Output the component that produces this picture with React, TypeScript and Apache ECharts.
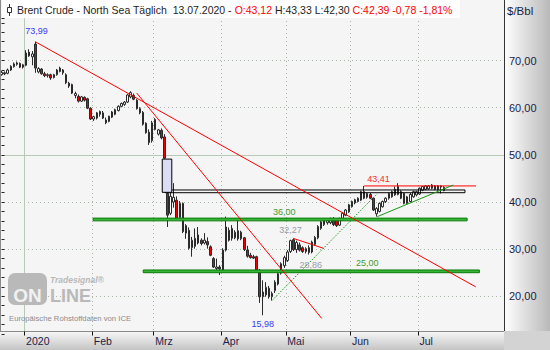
import React, { useEffect, useRef } from 'react';
import * as echarts from 'echarts';

const FONT = "Arial, 'Liberation Sans', sans-serif";

// ---------- data ----------
const dates = [
  '2019-12-18', '2019-12-19', '2019-12-20', '2019-12-23', '2019-12-24', '2019-12-27', '2019-12-30', '2019-12-31',
  '2020-01-02', '2020-01-03', '2020-01-06', '2020-01-07', '2020-01-08', '2020-01-09', '2020-01-10', '2020-01-13',
  '2020-01-14', '2020-01-15', '2020-01-16', '2020-01-17', '2020-01-20', '2020-01-21', '2020-01-22', '2020-01-23',
  '2020-01-24', '2020-01-27', '2020-01-28', '2020-01-29', '2020-01-30', '2020-01-31',
  '2020-02-03', '2020-02-04', '2020-02-05', '2020-02-06', '2020-02-07', '2020-02-10', '2020-02-11', '2020-02-12',
  '2020-02-13', '2020-02-14', '2020-02-17', '2020-02-18', '2020-02-19', '2020-02-20', '2020-02-21', '2020-02-24',
  '2020-02-25', '2020-02-26', '2020-02-27', '2020-02-28',
  '2020-03-02', '2020-03-03', '2020-03-04', '2020-03-05', '2020-03-06', '2020-03-09', '2020-03-10', '2020-03-11',
  '2020-03-12', '2020-03-13', '2020-03-16', '2020-03-17', '2020-03-18', '2020-03-19', '2020-03-20', '2020-03-23',
  '2020-03-24', '2020-03-25', '2020-03-26', '2020-03-27', '2020-03-30', '2020-03-31',
  '2020-04-01', '2020-04-02', '2020-04-03', '2020-04-06', '2020-04-07', '2020-04-08', '2020-04-09', '2020-04-13',
  '2020-04-14', '2020-04-15', '2020-04-16', '2020-04-17', '2020-04-20', '2020-04-21', '2020-04-22', '2020-04-23',
  '2020-04-24', '2020-04-27', '2020-04-28', '2020-04-29', '2020-04-30',
  '2020-05-01', '2020-05-04', '2020-05-05', '2020-05-06', '2020-05-07', '2020-05-08', '2020-05-11', '2020-05-12',
  '2020-05-13', '2020-05-14', '2020-05-15', '2020-05-18', '2020-05-19', '2020-05-20', '2020-05-21', '2020-05-22',
  '2020-05-25', '2020-05-26', '2020-05-27', '2020-05-28', '2020-05-29',
  '2020-06-01', '2020-06-02', '2020-06-03', '2020-06-04', '2020-06-05', '2020-06-08', '2020-06-09', '2020-06-10',
  '2020-06-11', '2020-06-12', '2020-06-15', '2020-06-16', '2020-06-17', '2020-06-18', '2020-06-19', '2020-06-22',
  '2020-06-23', '2020-06-24', '2020-06-25', '2020-06-26', '2020-06-29', '2020-06-30',
  '2020-07-01', '2020-07-02', '2020-07-03', '2020-07-06', '2020-07-07', '2020-07-08', '2020-07-09', '2020-07-10',
  '2020-07-13',
];

const opens = [
  67.0, 67.4, 67.3, 68.0, 68.7, 69.2, 69.4, 68.6,
  69.0, 71.8, 70.8, 73.5, 67.6, 68.2, 67.2, 66.8, 67.0, 66.4, 67.0, 68.4, 67.4, 67.0, 65.2, 64.9, 62.6, 62.4, 61.4, 62.2, 61.9, 59.9,
  57.6, 57.8, 58.6, 58.9, 57.4, 57.1, 58.0, 58.6, 59.4, 60.3, 60.7, 61.2, 62.3, 62.6, 61.6, 58.9, 59.0, 56.7, 54.8, 53.0,
  57.5, 54.4, 55.2, 53.8, 41.8, 37.6, 40.0, 40.4, 36.7, 39.7, 33.4, 34.0, 30.3, 30.6, 31.3, 31.9, 31.3, 31.6, 30.5, 28.0, 25.9, 26.2,
  25.5, 29.8, 34.0, 32.3, 32.4, 33.9, 32.2, 32.4, 29.8, 28.7, 28.4, 28.4, 25.5, 19.9, 20.3, 21.7, 19.9, 21.2, 22.6, 24.9, 26.5,
  27.6, 29.5, 32.0, 29.9, 30.9, 30.3, 29.5, 30.3, 29.4, 31.0, 32.4, 34.4, 35.2, 35.6, 35.6, 36.5, 36.3, 35.1, 36.2, 37.2, 37.9,
  39.0, 39.8, 40.1, 40.4, 42.2, 41.0, 41.6, 40.8, 37.5, 38.0, 39.0, 40.1, 40.8, 41.1, 41.5, 41.6, 42.2, 41.8, 39.7, 40.1, 41.1, 41.5,
  41.7, 42.5, 42.7, 42.8, 42.9, 43.4, 42.6, 43.4, 43.12,
];

const highs = [
  67.8, 67.7, 68.3, 69.0, 69.6, 69.8, 69.6, 69.3,
  72.2, 72.4, 72.0, 73.99, 68.6, 68.4, 67.6, 67.3, 67.2, 67.2, 68.2, 68.7, 68.2, 67.3, 65.5, 65.1, 63.4, 62.8, 62.5, 62.4, 62.1, 60.1,
  58.3, 59.1, 59.4, 59.3, 57.9, 58.3, 59.3, 59.8, 60.5, 61.1, 61.4, 62.9, 63.5, 63.0, 61.8, 60.1, 59.3, 56.9, 55.4, 57.2,
  57.8, 55.5, 55.6, 54.4, 42.05, 41.9, 44.0, 41.2, 40.2, 39.9, 35.3, 34.6, 32.6, 34.4, 34.7, 32.3, 33.4, 32.5, 30.8, 28.3, 28.0, 26.6,
  30.2, 36.9, 34.6, 35.1, 34.0, 36.2, 33.9, 32.6, 30.7, 29.2, 28.8, 28.6, 25.8, 23.4, 23.0, 22.2, 21.0, 23.4, 25.1, 27.2, 28.6,
  29.8, 32.0, 32.27, 31.8, 31.4, 30.6, 30.4, 30.8, 31.8, 32.8, 35.1, 36.0, 36.6, 36.4, 36.7, 36.8, 36.6, 36.7, 37.8, 38.5, 39.6,
  40.3, 40.7, 41.0, 42.4, 43.41, 42.0, 41.9, 41.0, 38.9, 39.9, 40.3, 41.0, 42.0, 42.4, 43.3, 44.0, 42.5, 42.0, 41.3, 41.9, 42.4, 42.4,
  43.1, 43.4, 43.6, 43.6, 43.8, 43.6, 43.6, 43.5, 43.33,
];

const lows = [
  66.8, 66.9, 67.1, 67.8, 68.5, 68.9, 68.4, 68.3,
  68.8, 70.8, 69.0, 67.4, 67.3, 67.0, 66.5, 66.4, 65.9, 66.2, 66.8, 67.5, 67.0, 65.0, 64.2, 62.9, 62.0, 61.1, 61.2, 61.3, 59.7, 57.4,
  57.2, 57.5, 58.1, 57.6, 56.5, 56.9, 57.8, 58.4, 59.2, 60.1, 60.4, 61.0, 62.0, 61.6, 59.6, 58.6, 56.2, 54.5, 52.1, 52.6,
  55.2, 54.1, 53.3, 49.1, 34.7, 37.2, 38.8, 36.2, 36.3, 33.4, 32.2, 29.9, 28.4, 30.1, 31.0, 30.8, 31.0, 30.1, 28.5, 26.0, 25.2, 24.5,
  25.2, 29.5, 31.6, 31.8, 32.1, 31.8, 31.9, 29.6, 28.2, 28.0, 27.9, 25.4, 18.6, 15.98, 19.9, 19.5, 19.1, 20.7, 22.3, 24.6, 26.0,
  27.3, 29.2, 29.6, 29.2, 29.5, 29.2, 29.1, 28.86, 29.1, 30.7, 32.1, 34.1, 34.9, 35.2, 35.3, 34.9, 34.7, 34.9, 36.0, 37.0, 37.7,
  38.8, 39.5, 39.9, 40.2, 40.6, 40.7, 40.6, 38.1, 36.9, 37.8, 38.8, 39.8, 40.5, 40.9, 41.3, 41.4, 40.6, 39.5, 39.5, 39.9, 40.9, 41.2,
  41.5, 42.3, 42.5, 42.6, 42.7, 42.5, 42.4, 41.8, 42.30,
];

const closes = [
  67.5, 67.2, 68.0, 68.8, 69.3, 69.5, 68.6, 69.1,
  71.6, 71.0, 71.4, 68.4, 68.3, 67.2, 66.8, 67.0, 66.3, 67.0, 68.0, 67.7, 68.0, 65.3, 64.6, 63.1, 63.0, 61.4, 62.3, 61.6, 59.9, 57.6,
  58.1, 58.9, 59.2, 57.8, 56.8, 58.2, 59.1, 59.6, 60.3, 60.9, 61.2, 62.7, 63.2, 61.8, 59.8, 59.8, 56.5, 54.7, 52.6, 56.8,
  55.4, 55.3, 53.6, 49.3, 37.2, 41.2, 41.0, 36.6, 39.7, 33.7, 35.0, 30.2, 31.9, 32.3, 33.0, 31.2, 31.9, 30.9, 28.7, 26.2, 26.2, 25.8,
  29.8, 34.7, 31.9, 34.4, 33.6, 32.2, 33.6, 29.9, 28.5, 28.2, 28.1, 25.6, 19.9, 20.9, 21.9, 19.9, 20.6, 23.0, 24.8, 26.9, 28.2,
  29.4, 31.8, 29.9, 31.4, 29.8, 29.5, 30.1, 29.3, 31.5, 32.5, 34.8, 35.8, 36.4, 36.1, 36.4, 35.2, 35.0, 36.5, 37.6, 38.3, 39.4,
  40.1, 40.5, 40.8, 42.2, 40.8, 41.8, 40.8, 38.3, 38.6, 39.7, 40.1, 40.8, 41.8, 42.2, 42.7, 43.3, 40.8, 39.7, 41.1, 41.6, 42.2, 42.2,
  42.9, 43.3, 43.4, 43.4, 43.6, 42.7, 43.4, 43.17, 42.39,
];

const monthNames = ['Jan', 'Feb', 'Mrz', 'Apr', 'Mai', 'Jun', 'Jul', 'Aug', 'Sep', 'Okt', 'Nov', 'Dez'];
const padCount = 19; // empty slots right of the last bar

const yTickValues = [20, 30, 40, 50, 60, 70];
const dottedLevels = [20, 30, 40, 60, 70];
const solidLevels = [50];

// drawings, in [barIndex, price] coordinates
const redLines = [
  [11, 73.99, 154.3, 22.0],
  [44, 63.1, 104.2, 15.3],
  [118, 43.41, 154.4, 43.41],
  [95, 32.27, 104.9, 30.15],
];
const greenDottedLines = [[88, 19.1, 122.3, 41.8]];
const greenLines = [[122.3, 36.9, 147.0, 43.6]];
const supportBands = [
  { value: 36, from: 29.8, to: 151.5 },
  { value: 25, from: 46.1, to: 155.5 },
];
const rangeBox = [53.2, 41.97, 150.8, 42.55];
const gapBox = [52.3, 42.05, 55.4, 49.1];

const valueLabels = [
  { id: 'hi', x: 11, y: 73.99, tone: 'blue' },
  { id: 'lo', x: 85, y: 15.98, tone: 'blue' },
  { id: 'top', x: 118, y: 43.41, tone: 'red' },
  { id: 'b36', x: 92, y: 36.0, tone: 'green' },
  { id: 'p32', x: 95, y: 32.27, tone: 'gray' },
  { id: 'p28', x: 100, y: 28.86, tone: 'gray' },
  { id: 'b25', x: 119, y: 25.0, tone: 'green' },
];

// ---------- helpers ----------
const fmt = (v: number) => v.toFixed(2).replace('.', ',');

export default function App() {
  const ref = useRef<HTMLDivElement>(null);

  useEffect(() => {
    if (!ref.current) return;
    document.body.style.margin = '0';
    const chart = echarts.init(ref.current, null, { renderer: 'svg' });

    const n = dates.length;
    const cats = dates.concat(Array.from({ length: padCount }, (_, k) => `pad${k + 1}`));
    const xMax = cats.length - 0.5;
    const monthStart = new Set<number>();
    for (let i = 1; i < n; i++) {
      if (dates[i].slice(5, 7) !== dates[i - 1].slice(5, 7)) monthStart.add(i);
    }
    const labelOf = (i: number) => {
      const d = dates[i];
      const m = +d.slice(5, 7);
      return m === 1 ? d.slice(0, 4) : monthNames[m - 1];
    };
    const candleData = dates.map((_, i) => [opens[i], closes[i], lows[i], highs[i]]);

    const dotted = { color: '#a9b5a9', width: 1, type: [1, 3] as any };
    const solid = { color: '#b6cab6', width: 1, type: 'solid' as any };

    const gridMarks: any[] = [
      ...dottedLevels.map((v) => ({ yAxis: v, lineStyle: dotted })),
      ...solidLevels.map((v) => ({ yAxis: v, lineStyle: solid })),
      ...Array.from(monthStart).map((i) => ({
        xAxis: i - 0.5,
        lineStyle: dates[i].slice(5, 7) === '01' ? solid : dotted,
      })),
    ];

    const lineSeries = (seg: number[], color: string, type: any, w = 1) => ({
      type: 'line',
      xAxisIndex: 1,
      yAxisIndex: 0,
      data: [
        [seg[0], seg[1]],
        [seg[2], seg[3]],
      ],
      symbol: 'none',
      silent: true,
      z: 5,
      lineStyle: { color, width: w, type },
      animation: false,
    });

    const last = n - 1;
    const chg = closes[last] - closes[last - 1];
    const pct = (chg / closes[last - 1]) * 100;
    const dd = dates[last];
    const dateStr = `${dd.slice(8, 10)}.${dd.slice(5, 7)}.${dd.slice(0, 4)}`;

    const bandH = 0.58;

    const option: any = {
      animation: false,
      title: {
        left: 17,
        top: 4,
        padding: 0,
        text:
          `{k|Brent Crude - North Sea Täglich  ${dateStr} - }{r|O:${fmt(opens[last])}}` +
          `{k| H:${fmt(highs[last])} L:${fmt(lows[last])} }{r|C:${fmt(closes[last])} ${fmt(chg)} ${fmt(pct)}%}`,
        textStyle: {
          fontSize: 10.5,
          fontWeight: 'normal',
          fontFamily: FONT,
          rich: {
            k: { color: '#1e1e1e', fontSize: 10.5, fontFamily: FONT },
            r: { color: '#ff0000', fontSize: 10.5, fontFamily: FONT },
          },
        },
      },
      grid: { left: 0, right: 46, top: 18.14, bottom: 16, containLabel: false },
      xAxis: [
        {
          type: 'category',
          data: cats,
          boundaryGap: true,
          offset: -2.5,
          z: 10,
          axisLine: { show: false },
          axisTick: {
            show: true,
            length: 4,
            interval: (i: number) => monthStart.has(i),
            lineStyle: { color: '#111', width: 1 },
          },
          axisLabel: {
            interval: (i: number) => monthStart.has(i),
            formatter: (_v: string, i: number) => labelOf(i),
            align: 'left',
            margin: 4,
            fontSize: 10.5,
            fontFamily: FONT,
            color: '#1a1d4a',
          },
          splitLine: { show: false },
        },
        { type: 'value', min: -0.5, max: xMax, show: false },
      ],
      yAxis: {
        type: 'value',
        position: 'right',
        min: 12,
        max: 79,
        interval: 2,
        z: 10,
        axisLine: { show: false },
        axisTick: { show: true, length: 3, lineStyle: { color: '#222', width: 1 } },
        axisLabel: {
          margin: 5,
          fontSize: 11,
          fontFamily: FONT,
          color: '#1a1d4a',
          formatter: (v: number) => (yTickValues.includes(v) ? fmt(v) : ''),
        },
        splitLine: { show: false },
      },
      series: [
        {
          type: 'line',
          xAxisIndex: 1,
          yAxisIndex: 0,
          data: [
            [-0.5, 50],
            [xMax, 50],
          ],
          symbol: 'none',
          silent: true,
          lineStyle: { opacity: 0 },
          z: 1,
          markLine: {
            z: 1,
            silent: true,
            symbol: ['none', 'none'],
            label: { show: false },
            animation: false,
            data: gridMarks,
          },
        },
        {
          type: 'candlestick',
          xAxisIndex: 0,
          yAxisIndex: 0,
          data: candleData,
          barWidth: 2,
          z: 3,
          silent: true,
          itemStyle: {
            color: '#ffffff',
            color0: '#ee0000',
            borderColor: '#2a2a2a',
            borderColor0: '#2a2a2a',
            borderColorDoji: '#2a2a2a',
            borderWidth: 1,
          },
        },
        {
          type: 'line',
          xAxisIndex: 1,
          yAxisIndex: 0,
          data: [
            [-0.5, 50],
            [xMax, 50],
          ],
          symbol: 'none',
          silent: true,
          lineStyle: { opacity: 0 },
          z: 4,
          markArea: {
            z: 4,
            silent: true,
            label: { show: false },
            animation: false,
            data: [
              ...supportBands.map((b) => [
                {
                  coord: [b.from, b.value],
                  itemStyle: { color: '#36b436', borderColor: '#0b7a0b', borderWidth: 1, opacity: 1 },
                },
                { coord: [b.to, b.value + bandH] },
              ]),
              [
                {
                  coord: [rangeBox[0], rangeBox[1]],
                  itemStyle: { color: 'rgba(0,0,0,0)', borderColor: '#000000', borderWidth: 1, opacity: 1 },
                },
                { coord: [rangeBox[2], rangeBox[3]] },
              ],
              [
                {
                  coord: [gapBox[0], gapBox[1]],
                  itemStyle: { color: '#dcdcf4', borderColor: '#000000', borderWidth: 1, opacity: 1 },
                },
                { coord: [gapBox[2], gapBox[3]] },
              ],
            ],
          },
        },
        ...redLines.map((s) => lineSeries(s, '#ff0000', 'solid')),
        ...greenDottedLines.map((s) => lineSeries(s, '#159a15', [1.5, 1.5])),
        ...greenLines.map((s) => lineSeries(s, '#159a15', 'solid')),
      ],
    };

    chart.setOption(option);

    const toPx = (x: number, y: number) =>
      chart.convertToPixel({ xAxisIndex: 1, yAxisIndex: 0 } as any, [x, y]) as unknown as number[];

    const tones: Record<string, string> = {
      blue: '#3a3af5',
      red: '#ff2a2a',
      green: '#3f9c2e',
      gray: '#9a9aac',
    };
    const labelLayout: Record<string, { dx: number; dy: number; align: string }> = {
      hi: { dx: -10, dy: -11, align: 'left' },
      lo: { dx: 0, dy: 8.5, align: 'center' },
      top: { dx: 3, dy: -7, align: 'left' },
      b36: { dx: 0, dy: -9, align: 'center' },
      p32: { dx: -3, dy: -8.5, align: 'center' },
      p28: { dx: 2, dy: 10, align: 'center' },
      b25: { dx: 0, dy: -9.5, align: 'center' },
    };
    const labelEls = valueLabels.map((lb) => {
      const p = toPx(lb.x, lb.y);
      const s = labelLayout[lb.id];
      return {
        type: 'text',
        x: p[0] + s.dx,
        y: p[1] + s.dy,
        z: 7,
        silent: true,
        style: {
          text: fmt(lb.y),
          fill: tones[lb.tone],
          fontSize: 9,
          fontFamily: FONT,
          align: s.align,
          verticalAlign: 'middle',
        },
      };
    });

    const LG = echarts.graphic.LinearGradient;
    const staticEls: any[] = [
      { type: 'rect', shape: { x: 0, y: 0, width: 504, height: 331 }, style: { fill: '#f5f5f5' }, z: -10, silent: true },
      {
        type: 'rect',
        shape: { x: 0, y: 331, width: 504, height: 19 },
        style: { fill: new LG(0, 0, 0, 1, [{ offset: 0, color: '#f8f8f8' }, { offset: 1, color: '#c4c4c4' }]) },
        z: 8,
        silent: true,
      },
      {
        type: 'rect',
        shape: { x: 504, y: 0, width: 46, height: 331 },
        style: { fill: new LG(0, 0, 1, 0, [{ offset: 0, color: '#ffffff' }, { offset: 1, color: '#b9b9b9' }]) },
        z: 8,
        silent: true,
      },
      { type: 'rect', shape: { x: 504, y: 331, width: 46, height: 19 }, style: { fill: '#d3d3d3' }, z: 12, silent: true },
      { type: 'line', shape: { x1: 0.5, y1: 0, x2: 0.5, y2: 331 }, style: { stroke: '#8a8a8a', lineWidth: 1 }, z: 9, silent: true },
      { type: 'line', shape: { x1: 0, y1: 331.5, x2: 504, y2: 331.5 }, style: { stroke: '#8a8a8a', lineWidth: 1 }, z: 9, silent: true },
      { type: 'line', shape: { x1: 504.5, y1: 0, x2: 504.5, y2: 331 }, style: { stroke: '#333333', lineWidth: 1 }, z: 11, silent: true },
      { type: 'rect', shape: { x: 2, y: 0, width: 458, height: 18 }, style: { fill: '#ffffff' }, z: 5.5, silent: true },
      { type: 'line', shape: { x1: 9.5, y1: 4, x2: 9.5, y2: 16 }, style: { stroke: '#333', lineWidth: 1 }, z: 7, silent: true },
      { type: 'rect', shape: { x: 7.5, y: 7.5, width: 4, height: 5 }, style: { fill: '#ffffff', stroke: '#333', lineWidth: 1 }, z: 7.1, silent: true },
      {
        type: 'text',
        x: 507,
        y: 11,
        z: 13,
        silent: true,
        style: { text: '$/Bbl', fontSize: 11.5, fontFamily: FONT, fill: '#1a1d3c', verticalAlign: 'middle' },
      },
      // watermark
      { type: 'rect', shape: { x: 8, y: 273, width: 39, height: 32, r: 7 }, style: { fill: '#b9b9b9' }, z: 1.5, silent: true },
      {
        type: 'text',
        x: 27.5,
        y: 295,
        z: 1.6,
        silent: true,
        style: { text: 'ON', fill: '#f1f1f1', fontSize: 19, fontWeight: 'bold', fontFamily: FONT, align: 'center', verticalAlign: 'middle' },
      },
      {
        type: 'text',
        x: 50,
        y: 295.5,
        z: 1.6,
        silent: true,
        style: { text: 'LINE', fill: '#b9b9b9', fontSize: 18, fontWeight: 'bold', fontFamily: FONT, verticalAlign: 'middle' },
      },
      {
        type: 'text',
        x: 50,
        y: 280,
        z: 1.6,
        silent: true,
        style: { text: 'Tradesignal®', fill: '#b9b9b9', fontSize: 8.5, fontWeight: 'bold', fontStyle: 'italic', fontFamily: FONT, verticalAlign: 'middle' },
      },
      {
        type: 'text',
        x: 9,
        y: 318.5,
        z: 1.6,
        silent: true,
        style: { text: 'Europäische Rohstoffdaten von ICE', fill: '#8c8c8c', fontSize: 7.7, fontFamily: FONT, verticalAlign: 'middle' },
      },
    ];

    chart.setOption({ graphic: { elements: [...staticEls, ...labelEls] } });

    return () => chart.dispose();
  }, []);

  return <div ref={ref} style={{ position: 'absolute', left: 0, top: 0, width: 550, height: 350 }} />;
}
